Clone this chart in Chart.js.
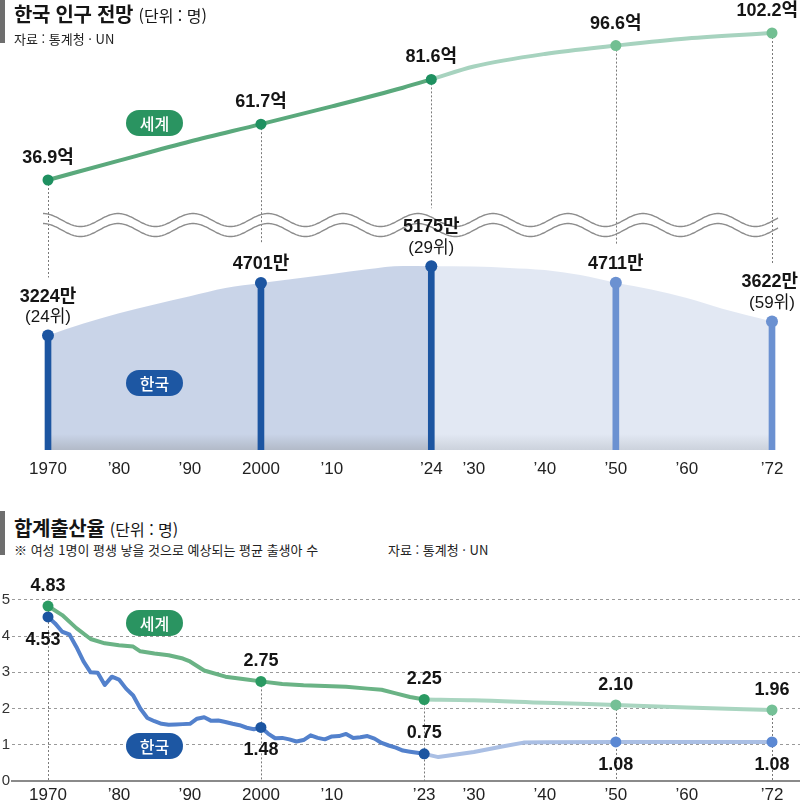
<!DOCTYPE html>
<html lang="ko">
<head>
<meta charset="utf-8">
<script src="https://cdn.jsdelivr.net/npm/chart.js@4.4.0/dist/chart.umd.min.js"></script>
<style>
  body { margin: 0; background: #fff; }
  #wrap { position: relative; width: 800px; height: 805px; overflow: hidden; font-family: 'Noto Sans CJK KR', sans-serif; color: #151515; }
  canvas { position: absolute; left: 0; }
  #popChart { top: 0; }
  #tfrChart { top: 560px; }
  .bar { position: absolute; left: 0; width: 5px; background: #6e6e6e; }
  .title { position: absolute; left: 14px; font-size: 20px; line-height: 20px; font-weight: 700; letter-spacing: -0.3px; white-space: nowrap; z-index: 2; }
  .title span { font-size: 16px; font-weight: 400; letter-spacing: 0; }
  .note { position: absolute; font-size: 13px; line-height: 13px; white-space: nowrap; color: #222; z-index: 2; }
  .pill { position: absolute; width: 57px; height: 26px; border-radius: 13px; color: #fff; font-size: 16px; font-weight: 500; text-align: center; line-height: 26px; z-index: 2; }
  .green { background: #2a9461; }
  .blue { background: #1d57a3; }
</style>
</head>
<body>
<div id="wrap">
  <canvas id="popChart" width="800" height="490"></canvas>
  <canvas id="tfrChart" width="800" height="245"></canvas>

  <div class="bar" style="top:0;height:43px"></div>
  <div class="title" style="top:4px">한국 인구 전망 <span>(단위 : 명)</span></div>
  <div class="note" style="left:14px;top:32px">자료 : 통계청 · UN</div>

  <div class="bar" style="top:511px;height:44px"></div>
  <div class="title" style="top:518px">합계출산율 <span>(단위 : 명)</span></div>
  <div class="note" style="left:14px;top:543px">※ 여성 1명이 평생 낳을 것으로 예상되는 평균 출생아 수</div>
  <div class="note" style="left:388px;top:543px">자료 : 통계청 · UN</div>

  <div class="pill green" style="left:126px;top:110px">세계</div>
  <div class="pill blue" style="left:126px;top:370px">한국</div>
  <div class="pill green" style="left:126px;top:610px">세계</div>
  <div class="pill blue" style="left:126px;top:733px">한국</div>
</div>

<script>
// ---- 인구 (world in 억, korea in 만) ----
const popYears = [1970, 2000, 2024, 2050, 2072];
const worldPop = [36.9, 61.7, 81.6, 96.6, 102.2];
const koreaPop = [3224, 4701, 5175, 4711, 3622];
const koreaRank = ['(24위)', '', '(29위)', '', '(59위)'];

const worldCurveYears = [1970, 1980, 1990, 2000, 2010, 2020, 2024, 2030, 2040, 2050, 2060, 2072];
const worldCurve = [36.9, 45.5, 54.0, 61.7, 69.6, 77.9, 81.6, 87.3, 92.9, 96.6, 99.8, 102.2];

const koreaCurveYears = [1970, 1975, 1980, 1985, 1990, 1995, 2000, 2005, 2010, 2015, 2020, 2024,
  2030, 2035, 2040, 2045, 2050, 2055, 2060, 2065, 2072];
const koreaCurve = [3224, 3560, 3850, 4100, 4330, 4560, 4701, 4830, 4960, 5090, 5180, 5175,
  5170, 5130, 5070, 4930, 4711, 4520, 4280, 3980, 3622];

const popTickYears = [1970, 1980, 1990, 2000, 2010, 2024, 2030, 2040, 2050, 2060, 2072];
const popTickLabels = ['1970', '’80', '’90', '2000', '’10', '’24', '’30', '’40', '’50', '’60', '’72'];

// ---- 합계출산율 ----
const tfrYears = [1970, 2000, 2023, 2050, 2072];
const worldTfr = [4.83, 2.75, 2.25, 2.10, 1.96];
const koreaTfr = [4.53, 1.48, 0.75, 1.08, 1.08];
const worldTfrLabels = ['4.83', '2.75', '2.25', '2.10', '1.96'];
const koreaTfrLabels = ['4.53', '1.48', '0.75', '1.08', '1.08'];

const worldHistYears = [1970, 1972, 1974, 1976, 1978, 1980, 1982, 1983, 1985, 1987, 1989, 1990, 1992,
  1995, 1998, 2000, 2003, 2006, 2009, 2012, 2015, 2017, 2019, 2021, 2023];
const worldHist = [4.83, 4.58, 4.22, 3.92, 3.80, 3.75, 3.71, 3.58, 3.52, 3.47, 3.38, 3.30, 3.05,
  2.88, 2.80, 2.75, 2.68, 2.64, 2.62, 2.60, 2.55, 2.52, 2.42, 2.32, 2.25];
const worldProjYears = [2023, 2030, 2040, 2050, 2060, 2072];
const worldProj = [2.25, 2.23, 2.16, 2.10, 2.03, 1.96];

const koreaHistStart = 1970;
const koreaHist = [4.53, 4.35, 4.12, 4.05, 3.70, 3.30, 3.00, 2.99, 2.65, 2.88,
  2.80, 2.55, 2.36, 2.00, 1.74, 1.65, 1.58, 1.55, 1.56, 1.57,
  1.58, 1.72, 1.76, 1.66, 1.67, 1.63, 1.58, 1.54, 1.47, 1.43,
  1.48, 1.31, 1.18, 1.19, 1.15, 1.09, 1.13, 1.26, 1.19, 1.15,
  1.23, 1.24, 1.30, 1.19, 1.21, 1.24, 1.17, 1.05, 0.98, 0.92,
  0.84, 0.81, 0.78, 0.75];
const koreaProjYears = [2023, 2025, 2030, 2034, 2037, 2040, 2050, 2060, 2072];
const koreaProj = [0.75, 0.66, 0.80, 0.95, 1.06, 1.07, 1.08, 1.08, 1.08];

const tfrTickYears = [1970, 1980, 1990, 2000, 2010, 2023, 2030, 2040, 2050, 2060, 2072];
const tfrTickLabels = ['1970', '’80', '’90', '2000', '’10', '’23', '’30', '’40', '’50', '’60', '’72'];
const tfrYTicks = [0, 1, 2, 3, 4, 5];

// ---- shared look ----
const NUM_FONT = "'Liberation Sans', 'Noto Sans CJK KR', sans-serif";
const NARROW_FONT = "'Liberation Sans Narrow', 'Liberation Sans', sans-serif";
Chart.defaults.font.family = NUM_FONT;
Chart.defaults.color = '#222';
Chart.defaults.animation = false;
Chart.defaults.plugins.legend.display = false;
Chart.defaults.plugins.tooltip.enabled = false;

const PX_PER_YEAR = 7.098;
const green = { dark: '#5aa97c', light: '#a7d3bf', dot: '#1f9060', dotLight: '#72bf92' };
const blue = { dark: '#1c55a1', light: '#6b91d1', line: '#5381cc', lineLight: '#aabfe4', dotLight: '#5b88d3' };

function pts(xs, ys) {
    return xs.map((x, i) => ({ x: x, y: ys[i] }));
}

function areaFill(top, bottom) {
    return (ctx) => {
        const area = ctx.chart.chartArea;
        if (!area) {
            return top;
        }
        const g = ctx.chart.ctx.createLinearGradient(0, area.bottom - 16, 0, area.bottom);
        g.addColorStop(0, top);
        g.addColorStop(1, bottom);
        return g;
    };
}

function drawLabel(ctx, text, x, y, font) {
    ctx.font = font;
    const w = ctx.measureText(text).width;
    const cx = Math.min(x, ctx.canvas.width - 2 - w / 2);
    ctx.fillText(text, cx, y);
}

function xAxis(min, ticks, labels, height, pad) {
    return {
        type: 'linear',
        min: min,
        max: 1970 + (800 - 48) / PX_PER_YEAR,
        offset: false,
        grid: { display: false, drawTicks: false },
        border: { display: false },
        afterBuildTicks: (scale) => { scale.ticks = ticks.map(v => ({ value: v })); },
        afterFit: (scale) => { scale.height = height; },
        ticks: {
            autoSkip: false,
            maxRotation: 0,
            padding: pad,
            color: '#222',
            font: { family: NARROW_FONT, size: 17 },
            callback: (v, i) => labels[i]
        }
    };
}

// ---- 인구 chart ----
const splitPop = popYears[2];

const popDecor = {
    id: 'popDecor',
    beforeDatasetsDraw(chart) {
        const { ctx, scales } = chart;
        ctx.save();
        // dotted guides from world point down to korea label
        ctx.strokeStyle = '#7a7a7a';
        ctx.lineWidth = 1;
        ctx.setLineDash([2, 2]);
        popYears.forEach((yr, i) => {
            const px = Math.round(scales.x.getPixelForValue(yr)) + 0.5;
            const top = scales.y2.getPixelForValue(worldPop[i]);
            const kY = scales.y.getPixelForValue(koreaPop[i]);
            const end = kY - (koreaRank[i] ? 58 : 39);
            ctx.beginPath();
            ctx.moveTo(px, top);
            ctx.lineTo(px, end);
            ctx.stroke();
        });
        ctx.setLineDash([]);
        // wavy break between the two scales
        ctx.strokeStyle = '#8c8c8c';
        ctx.lineWidth = 1.4;
        [220, 230].forEach(base => {
            ctx.beginPath();
            for (let px = 43; px <= 778; px++) {
                const py = base - 6.5 * Math.cos((px - 43) / 75 * 2 * Math.PI);
                if (px === 43) ctx.moveTo(px, py); else ctx.lineTo(px, py);
            }
            ctx.stroke();
        });
        ctx.restore();
    },
    afterDatasetsDraw(chart) {
        const { ctx, scales } = chart;
        ctx.save();
        ctx.fillStyle = '#151515';
        ctx.textAlign = 'center';
        ctx.textBaseline = 'middle';
        popYears.forEach((yr, i) => {
            const px = scales.x.getPixelForValue(yr);
            const wY = scales.y2.getPixelForValue(worldPop[i]);
            drawLabel(ctx, worldPop[i].toFixed(1) + '억', px, wY - 22, "bold 18px " + NUM_FONT);
            const kY = scales.y.getPixelForValue(koreaPop[i]);
            if (koreaRank[i]) {
                drawLabel(ctx, koreaPop[i] + '만', px, kY - 39, "bold 18px " + NUM_FONT);
                drawLabel(ctx, koreaRank[i], px, kY - 18, "17px " + NUM_FONT);
            } else {
                drawLabel(ctx, koreaPop[i] + '만', px, kY - 19, "bold 18px " + NUM_FONT);
            }
        });
        ctx.restore();
    }
};

const popPointColors = popYears.map(yr => yr <= splitPop ? blue.dark : blue.light);

new Chart(document.getElementById('popChart'), {
    type: 'line',
    data: {
        datasets: [
            {
                yAxisID: 'y2', order: 0,
                data: pts(popYears, worldPop),
                showLine: false,
                pointRadius: 5.5, pointBorderWidth: 0,
                pointBackgroundColor: popYears.map(yr => yr <= splitPop ? green.dot : green.dotLight)
            },
            {
                yAxisID: 'y', order: 0,
                data: pts(popYears, koreaPop),
                showLine: false,
                pointRadius: 6, pointBorderWidth: 0,
                pointBackgroundColor: popPointColors
            },
            {
                yAxisID: 'y2', order: 1,
                data: pts(worldCurveYears, worldCurve),
                borderWidth: 4, pointRadius: 0,
                borderCapStyle: 'round',
                cubicInterpolationMode: 'monotone',
                borderColor: green.dark,
                segment: { borderColor: c => c.p0.parsed.x >= splitPop ? green.light : green.dark }
            },
            {
                type: 'bar', yAxisID: 'y', order: 2,
                data: pts(popYears, koreaPop),
                backgroundColor: popPointColors,
                barThickness: 6, grouped: false, borderWidth: 0
            },
            {
                yAxisID: 'y', order: 3,
                data: pts(koreaCurveYears, koreaCurve).filter(p => p.x <= splitPop),
                borderWidth: 0, pointRadius: 0,
                cubicInterpolationMode: 'monotone',
                fill: 'origin',
                backgroundColor: areaFill('#c9d4e8', '#b2bac8')
            },
            {
                yAxisID: 'y', order: 3,
                data: pts(koreaCurveYears, koreaCurve).filter(p => p.x >= splitPop),
                borderWidth: 0, pointRadius: 0,
                cubicInterpolationMode: 'monotone',
                fill: 'origin',
                backgroundColor: areaFill('#e2e8f3', '#ccd2dc')
            }
        ]
    },
    options: {
        responsive: false,
        layout: { autoPadding: false, padding: { top: 10, left: 0, right: 0, bottom: 0 } },
        scales: {
            x: xAxis(1970 - 48 / PX_PER_YEAR, popTickYears, popTickLabels, 40, 9),
            y: { display: false, min: 0, max: 12394 },
            y2: { display: false, min: -83.05, max: 112.42 }
        }
    },
    plugins: [popDecor]
});

// ---- 합계출산율 chart ----
const splitTfr = tfrYears[2];

const tfrDecor = {
    id: 'tfrDecor',
    beforeDatasetsDraw(chart) {
        const { ctx, scales, chartArea } = chart;
        ctx.save();
        ctx.strokeStyle = '#7a7a7a';
        ctx.lineWidth = 1;
        ctx.setLineDash([2, 2]);
        tfrYears.forEach((yr, i) => {
            const px = Math.round(scales.x.getPixelForValue(yr)) + 0.5;
            ctx.beginPath();
            ctx.moveTo(px, scales.y.getPixelForValue(worldTfr[i]));
            ctx.lineTo(px, chartArea.bottom);
            ctx.stroke();
        });
        ctx.restore();
    },
    afterDatasetsDraw(chart) {
        const { ctx, scales } = chart;
        ctx.save();
        ctx.fillStyle = '#151515';
        ctx.textAlign = 'center';
        ctx.textBaseline = 'middle';
        const f = "bold 18px " + NUM_FONT;
        tfrYears.forEach((yr, i) => {
            const px = scales.x.getPixelForValue(yr);
            drawLabel(ctx, worldTfrLabels[i], px, scales.y.getPixelForValue(worldTfr[i]) - 20, f);
            const kY = scales.y.getPixelForValue(koreaTfr[i]);
            // 2023 sits above its point, the rest below
            const dy = yr === splitTfr ? -21 : 23;
            const dx = i === 0 ? -5 : 0;
            drawLabel(ctx, koreaTfrLabels[i], px + dx, kY + dy, f);
        });
        ctx.restore();
    }
};

new Chart(document.getElementById('tfrChart'), {
    type: 'line',
    data: {
        datasets: [
            {
                order: 0,
                data: pts(tfrYears, worldTfr),
                showLine: false,
                pointRadius: 5.5, pointBorderWidth: 0,
                pointBackgroundColor: tfrYears.map(yr => yr <= splitTfr ? '#2a9a62' : '#74c096')
            },
            {
                order: 0,
                data: pts(tfrYears, koreaTfr),
                showLine: false,
                pointRadius: 5.5, pointBorderWidth: 0,
                pointBackgroundColor: tfrYears.map(yr => yr <= splitTfr ? blue.dark : blue.dotLight)
            },
            {
                order: 1,
                data: pts(worldHistYears, worldHist),
                borderColor: '#6ab385', borderWidth: 4, pointRadius: 0,
                borderJoinStyle: 'round', borderCapStyle: 'round'
            },
            {
                order: 1,
                data: pts(worldProjYears, worldProj),
                borderColor: '#a9d5c0', borderWidth: 4, pointRadius: 0,
                cubicInterpolationMode: 'monotone', borderCapStyle: 'round'
            },
            {
                order: 1,
                data: koreaHist.map((v, i) => ({ x: koreaHistStart + i, y: v })),
                borderColor: blue.line, borderWidth: 4, pointRadius: 0,
                borderJoinStyle: 'round', borderCapStyle: 'round'
            },
            {
                order: 1,
                data: pts(koreaProjYears, koreaProj),
                borderColor: blue.lineLight, borderWidth: 4, pointRadius: 0,
                borderJoinStyle: 'round', borderCapStyle: 'round'
            }
        ]
    },
    options: {
        responsive: false,
        layout: { autoPadding: false, padding: { top: 29, left: 0, right: 0, bottom: 0 } },
        scales: {
            x: Object.assign(xAxis(1970 - 36 / PX_PER_YEAR, tfrTickYears, tfrTickLabels, 24, 4), {
                border: { display: true, color: '#8a8a8a', width: 2 }
            }),
            y: {
                min: 0, max: 5.3,
                afterBuildTicks: (scale) => { scale.ticks = tfrYTicks.map(v => ({ value: v })); },
                afterFit: (scale) => { scale.width = 12; },
                border: { display: false, dash: [3, 3] },
                grid: {
                    drawTicks: false,
                    lineWidth: 1,
                    color: c => (c.tick && c.tick.value === 0) ? 'rgba(0,0,0,0)' : '#9a9a9a'
                },
                ticks: {
                    padding: 2,
                    color: '#333',
                    font: { family: NARROW_FONT, size: 15 },
                    callback: v => String(v)
                }
            }
        }
    },
    plugins: [tfrDecor]
});
</script>
</body>
</html>
